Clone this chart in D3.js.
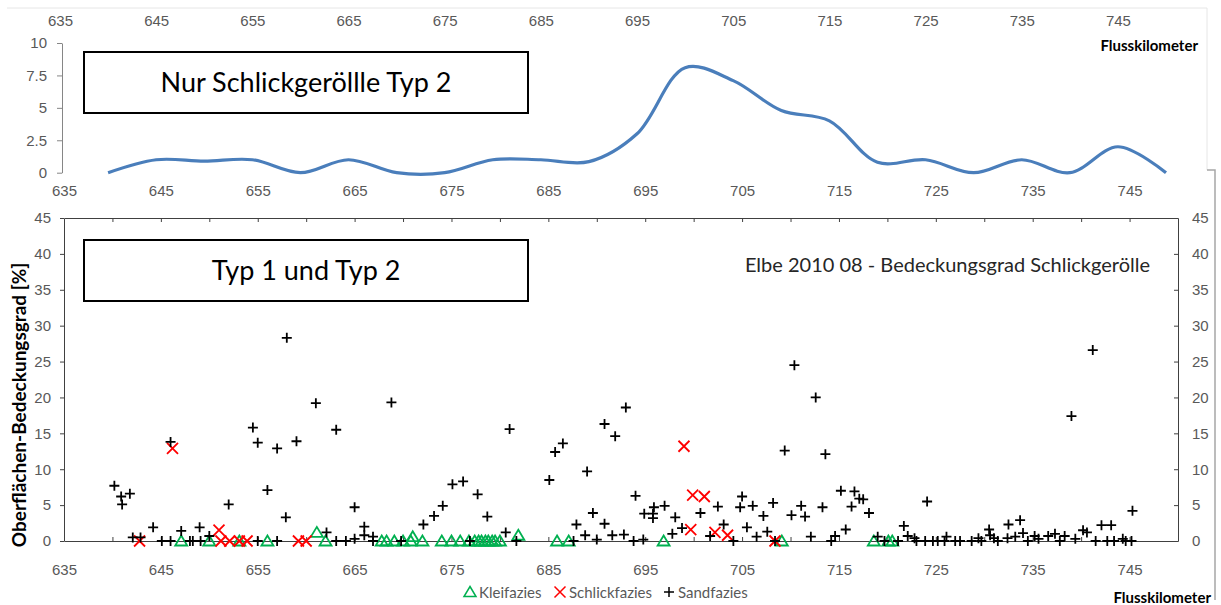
<!DOCTYPE html>
<html>
<head>
<meta charset="utf-8">
<script src="https://cdn.jsdelivr.net/npm/d3@7"></script>
<style>
  body { margin: 0; background: #fff; }
  svg { display: block; font-family: Lato, "Open Sans", sans-serif; }
  .tick text { fill: #595959; font-size: 15px; }
</style>
</head>
<body>
<svg id="chart" width="1221" height="605"></svg>
<script>
// top chart: only Schlickgeroelle type 2 (every 5 km)
const topKm = [640, 645, 650, 655, 660, 665, 670, 675, 680, 685, 690, 695,
    700, 705, 710, 715, 720, 725, 730, 735, 740, 745, 750];
const topValues = [0, 1, 0.9, 1, 0, 1, 0, 0, 1, 1, 0.85, 3,
    8.1, 7.1, 4.8, 4, 0.8, 1, 0, 1, 0, 2, 0];

// bottom chart: [km, coverage %]
const kleifazies = [[647.1, 0], [650.0, 0], [653.1, 0], [656.0, 0], [661.1, 1.2], [662.0, 0],
    [667.8, 0], [668.3, 0], [669.1, 0], [670.0, 0], [670.8, 0], [671.0, 0.6], [672.0, 0],
    [674.0, 0], [675.0, 0], [675.9, 0], [676.8, 0], [677.4, 0], [677.8, 0], [678.1, 0],
    [678.5, 0], [678.8, 0], [679.2, 0], [679.5, 0], [680.0, 0], [681.9, 0.8], [685.9, 0],
    [687.1, 0], [696.9, 0], [709.1, 0], [718.6, 0], [720.1, 0], [720.5, 0]];

const schlickfazies = [[642.8, 0], [646.2, 12.9], [651.0, 1.5], [651.2, 0], [652.1, 0],
    [653.1, 0], [653.9, 0], [659.2, 0], [660.0, 0], [699.0, 13.2], [699.9, 6.4], [701.1, 6.2],
    [699.7, 1.6], [702.2, 1.2], [703.5, 0.8], [708.4, 0]];

const sandfazies = [[640.2, 7.7], [640.9, 6.2], [641.0, 5.1], [641.8, 6.6], [642.1, 0.5],
    [642.9, 0.5], [644.2, 1.9], [645.1, 0], [646.0, 0], [646.0, 13.8], [647.1, 1.4], [648.0, 0],
    [648.3, 0], [649.0, 1.9], [649.1, 0], [650.0, 0.7], [652.0, 5.1], [654.5, 15.8], [655.0, 13.7],
    [655.0, 0], [656.0, 7.1], [657.0, 12.9], [657.0, 0], [657.9, 3.3], [658.0, 28.3], [659.0, 13.9],
    [661.0, 19.2], [662.1, 1.2], [663.1, 15.5], [663.1, 0], [664.1, 0], [665.0, 0.3], [665.0, 4.7],
    [666.0, 2.0], [666.0, 0.8], [666.9, 0.6], [666.9, 0], [668.8, 19.3], [669.8, 0], [672.1, 2.3],
    [673.2, 3.5], [674.1, 4.9], [675.1, 7.9], [676.2, 8.3], [676.9, 0], [677.7, 6.5], [678.7, 3.4],
    [680.6, 1.2], [681.0, 15.6], [681.7, 0], [685.1, 8.5], [685.7, 12.4], [686.5, 13.6], [687.6, 0],
    [687.9, 2.3], [688.8, 0.8], [689.0, 9.7], [689.6, 3.9], [690.0, 0.2], [690.8, 16.3], [690.8, 2.4],
    [691.6, 0.8], [691.9, 14.6], [692.8, 0.9], [693.0, 18.6], [693.8, 0], [694.0, 6.3], [694.8, 0.2],
    [694.9, 3.8], [695.8, 3.8], [695.9, 4.7], [695.8, 3.2], [697.0, 4.9], [697.8, 1.0], [698.1, 3.3],
    [698.8, 1.8], [700.7, 3.9], [701.7, 0.7], [702.5, 4.8], [703.1, 2.3], [704.1, 0], [704.8, 4.7],
    [705.0, 6.2], [705.5, 1.9], [706.1, 4.9], [706.5, 0.6], [707.2, 3.5], [707.6, 1.3], [708.2, 5.3],
    [708.4, 0], [709.4, 12.6], [710.1, 3.6], [710.4, 24.5], [711.1, 4.9], [711.5, 3.4], [712.1, 0.6],
    [712.6, 20.0], [713.3, 4.7], [713.6, 12.1], [714.2, 0], [714.6, 0.7], [715.2, 7.0], [715.7, 1.6],
    [716.3, 4.8], [716.6, 6.9], [717.1, 5.9], [717.5, 5.8], [718.1, 3.9], [719.0, 0.6], [719.7, 0],
    [721.1, 0], [721.7, 2.1], [722.1, 0.7], [722.8, 0.4], [723.0, 0], [723.9, 0], [724.1, 5.5],
    [724.7, 0], [725.2, 0], [725.9, 0], [726.1, 0.6], [727.0, 0], [727.5, 0], [728.7, 0], [729.4, 0.4],
    [729.7, 0], [730.5, 1.6], [730.6, 0.8], [731.0, 0.4], [731.4, 0], [732.4, 0.4], [732.5, 2.3],
    [733.2, 0.6], [733.7, 2.9], [734.0, 1.1], [734.5, 0], [735.2, 0.7], [735.6, 0.3], [736.6, 0.7],
    [737.3, 1.0], [737.8, 0], [738.3, 0.7], [739.0, 17.4], [739.4, 0.3], [740.2, 1.5], [740.6, 1.2],
    [741.2, 26.6], [741.5, 0], [742.1, 2.2], [742.7, 0], [743.1, 2.2], [743.4, 0], [744.3, 0.3],
    [744.6, 0], [745.2, 0], [745.3, 4.2]];

const xLabels = d3.range(635, 746, 10);
const xTicks = d3.range(640, 746, 5);
const topYTicks = [0, 2.5, 5, 7.5, 10];
const yTicks = d3.range(0, 46, 5);

const svg = d3.select("#chart");

// faint frames of the two pasted charts
svg.append("path").attr("d", "M7,8H1207V170").attr("fill", "none").attr("stroke", "#e6e6e6");
svg.append("path").attr("d", "M1207,170H1215V600").attr("fill", "none").attr("stroke", "#a6a6a6").attr("stroke-width", 1.5);

// ---------- top chart ----------
const xTop = d3.scaleLinear().domain([635, 750]).range([60, 1166]);
const x = d3.scaleLinear().domain([635, 750]).range([64, 1178]);
const yTop = d3.scaleLinear().domain([0, 10]).range([172.7, 43]);

const gTopAxis = svg.append("g").attr("transform", "translate(0,26)")
    .call(d3.axisTop(xTop).tickValues(xLabels).tickSize(0).tickPadding(0));
gTopAxis.select(".domain").remove();

const gTopBottom = svg.append("g").attr("transform", "translate(0," + yTop(0) + ")")
    .call(d3.axisBottom(x).tickValues(xLabels).tickSize(0).tickPadding(13));
gTopBottom.select(".domain").remove();

const gTopY = svg.append("g").attr("transform", "translate(62,0)")
    .call(d3.axisLeft(yTop).tickValues(topYTicks).tickSize(5).tickSizeOuter(0).tickPadding(10)
        .tickFormat(d3.format("")));
gTopY.selectAll("path, line").attr("stroke", "#868686");

const line = d3.line()
    .x((d, i) => xTop(topKm[i]))
    .y(d => yTop(d))
    .curve(d3.curveCatmullRom.alpha(0.5));

svg.append("path")
    .datum(topValues)
    .attr("fill", "none")
    .attr("stroke", "#4a7ebb")
    .attr("stroke-width", 3.2)
    .attr("d", line);

svg.append("text")
    .attr("x", 1198).attr("y", 51)
    .attr("text-anchor", "end")
    .attr("font-size", 15).attr("font-weight", "bold")
    .text("Flusskilometer");

// ---------- bottom chart ----------
const y = d3.scaleLinear().domain([0, 45]).range([541, 218]);
const frame = "#404040";

const gLeft = svg.append("g").attr("transform", "translate(64,0)")
    .call(d3.axisLeft(y).tickValues(yTicks).tickSize(4).tickSizeOuter(0).tickPadding(9));
const gRight = svg.append("g").attr("transform", "translate(1178,0)")
    .call(d3.axisRight(y).tickValues(yTicks).tickSize(-4).tickSizeOuter(0).tickPadding(14));
const gTopB = svg.append("g").attr("transform", "translate(0,218)")
    .call(d3.axisTop(x).tickValues(xTicks).tickSize(-4).tickSizeOuter(0).tickFormat(""));
const gBottom = svg.append("g").attr("transform", "translate(0,541)")
    .call(d3.axisBottom(x).tickValues(xTicks).tickSize(-4).tickSizeOuter(0).tickFormat(""));
svg.append("g").attr("transform", "translate(0,541)")
    .call(d3.axisBottom(x).tickValues(xLabels).tickSize(0).tickPadding(23))
    .select(".domain").remove();

[gLeft, gRight, gTopB, gBottom].forEach(g => g.selectAll("path, line").attr("stroke", frame));

// markers
const plus = "M-5,0H5M0,-5V5";
const cross = "M-5.5,-5.5L5.5,5.5M-5.5,5.5L5.5,-5.5";
const tri = "M0,-5.5L6,4.5L-6,4.5Z";

svg.append("g").selectAll("path")
    .data(kleifazies).enter().append("path")
    .attr("d", tri)
    .attr("transform", d => "translate(" + x(d[0]) + "," + y(d[1]) + ")")
    .attr("fill", "none").attr("stroke", "#00b050").attr("stroke-width", 1.8);

svg.append("g").selectAll("path")
    .data(schlickfazies).enter().append("path")
    .attr("d", cross)
    .attr("transform", d => "translate(" + x(d[0]) + "," + y(d[1]) + ")")
    .attr("fill", "none").attr("stroke", "#ff0000").attr("stroke-width", 1.8);

svg.append("g").selectAll("path")
    .data(sandfazies).enter().append("path")
    .attr("d", plus)
    .attr("transform", d => "translate(" + x(d[0]) + "," + y(d[1]) + ")")
    .attr("fill", "none").attr("stroke", "#000").attr("stroke-width", 1.8);

// title inside plot
svg.append("text")
    .attr("x", 1150).attr("y", 272)
    .attr("text-anchor", "end")
    .attr("font-size", 20).attr("fill", "#262626")
    .text("Elbe 2010 08 - Bedeckungsgrad Schlickgerölle");

// y axis title
svg.append("text")
    .attr("transform", "translate(26,405) rotate(-90)")
    .attr("text-anchor", "middle")
    .attr("font-size", 19).attr("font-weight", "bold")
    .text("Oberflächen-Bedeckungsgrad [%]");

svg.append("text")
    .attr("x", 1211).attr("y", 603)
    .attr("text-anchor", "end")
    .attr("font-size", 15).attr("font-weight", "bold")
    .text("Flusskilometer");

// legend
const legend = [
    {name: "Kleifazies", mark: tri, color: "#00b050", x: 470},
    {name: "Schlickfazies", mark: cross, color: "#ff0000", x: 560},
    {name: "Sandfazies", mark: plus, color: "#000", x: 669}
];
const lg = svg.append("g").selectAll("g").data(legend).enter().append("g")
    .attr("transform", d => "translate(" + d.x + ",592)");
lg.append("path").attr("d", d => d.mark)
    .attr("fill", "none").attr("stroke", d => d.color).attr("stroke-width", 1.5);
lg.append("text").attr("x", 9).attr("y", 5.5)
    .attr("font-size", 15).attr("fill", "#595959")
    .text(d => d.name);

// text boxes
const boxes = [
    {label: "Nur Schlickgeröllle Typ 2", top: 52, base: 92},
    {label: "Typ 1 und Typ 2", top: 240, base: 280}
];
boxes.forEach(b => {
    svg.append("rect")
        .attr("x", 84).attr("y", b.top).attr("width", 444).attr("height", 61)
        .attr("fill", "#fff").attr("stroke", "#000").attr("stroke-width", 2);
    svg.append("text")
        .attr("x", 306).attr("y", b.base)
        .attr("text-anchor", "middle")
        .attr("font-size", 27).attr("fill", "#000")
        .text(b.label);
});
</script>
</body>
</html>
